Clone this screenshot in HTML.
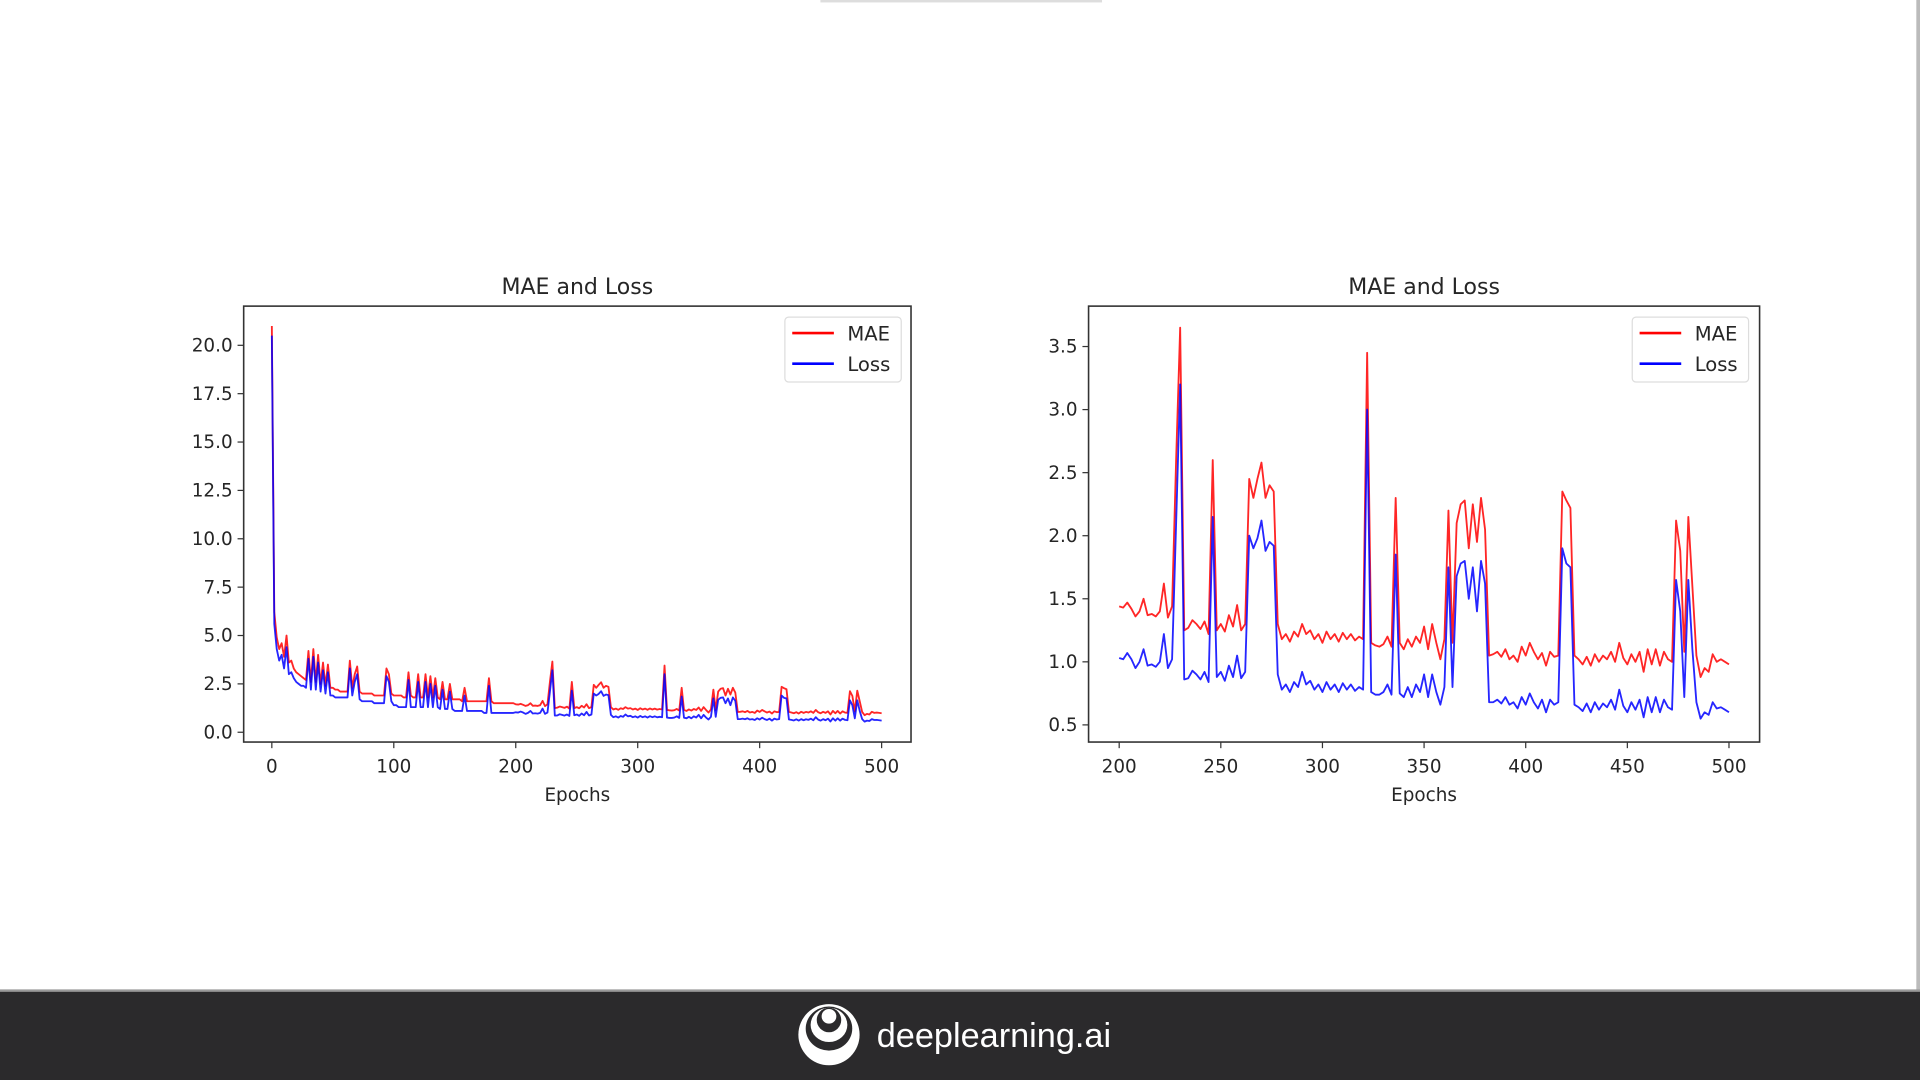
<!DOCTYPE html>
<html><head><meta charset="utf-8">
<style>
html,body{margin:0;padding:0;background:#fff;width:1920px;height:1080px;overflow:hidden}
svg{display:block}
text{font-family:"DejaVu Sans","Liberation Sans",sans-serif;fill:#262626}
</style></head>
<body>
<svg id="s" width="1920" height="1080" viewBox="0 0 1568 882">
<rect x="0" y="0" width="1568" height="882" fill="#fff"/>
<rect x="670" y="0" width="230" height="2" fill="#ddd"/>
<rect x="1565" y="0" width="3" height="809" fill="#bbb"/>
<g>
<rect x="0" y="809" width="1568" height="73" fill="#2b2a2c"/>
<rect x="0" y="808" width="1568" height="2" fill="#999"/>
<g>
<ellipse cx="677" cy="845" rx="25" ry="25" fill="#fff"/>
<ellipse cx="677" cy="840" rx="19" ry="18" fill="#2b2a2c"/>
<ellipse cx="677" cy="837" rx="15" ry="14" fill="#fff"/>
<ellipse cx="677" cy="833" rx="10" ry="10" fill="#2b2a2c"/>
<ellipse cx="677" cy="830" rx="6" ry="6" fill="#fff"/>
</g>
<text x="716" y="855" font-size="28" style="fill:#fff;font-family:'Liberation Sans',sans-serif">deeplearning.ai</text>
</g>
<g id="c1"></g>
<g id="c2"></g>
</svg>
<script>
// Right chart data (epochs 200..500, step 2)
const epochStart2 = 200;
const epochStep = 2;
const maeTail = [1.44,1.43,1.47,1.42,1.36,1.40,1.50,1.37,1.38,1.36,1.40,1.62,1.35,1.44,2.60,3.65,1.25,1.27,1.33,1.30,1.26,1.32,1.22,2.60,1.25,1.30,1.24,1.37,1.28,1.45,1.25,1.30,2.45,2.30,2.45,2.58,2.30,2.40,2.35,1.30,1.18,1.22,1.16,1.24,1.20,1.30,1.22,1.25,1.18,1.22,1.15,1.24,1.18,1.22,1.16,1.23,1.18,1.22,1.17,1.20,1.18,3.45,1.15,1.13,1.12,1.14,1.20,1.12,2.30,1.15,1.10,1.18,1.12,1.20,1.15,1.28,1.10,1.30,1.15,1.02,1.18,2.20,1.15,2.10,2.25,2.28,1.90,2.25,1.95,2.30,2.05,1.05,1.06,1.08,1.04,1.10,1.02,1.05,1.00,1.12,1.05,1.15,1.08,1.02,1.07,0.97,1.08,1.04,1.05,2.35,2.28,2.22,1.05,1.02,0.98,1.04,0.97,1.06,1.00,1.05,1.02,1.08,1.00,1.15,1.03,0.98,1.06,1.00,1.08,0.92,1.10,0.98,1.10,0.97,1.08,1.02,1.00,2.12,1.88,1.08,2.15,1.60,1.05,0.88,0.95,0.92,1.06,1.00,1.02,1.00,0.98];
const lossTail = [1.03,1.02,1.07,1.02,0.95,1.00,1.10,0.97,0.98,0.96,1.00,1.22,0.95,1.02,2.10,3.20,0.86,0.87,0.93,0.90,0.86,0.92,0.84,2.15,0.88,0.92,0.85,0.97,0.88,1.05,0.87,0.92,2.00,1.90,1.98,2.12,1.88,1.95,1.92,0.90,0.78,0.82,0.76,0.84,0.80,0.92,0.82,0.85,0.78,0.82,0.76,0.84,0.78,0.82,0.76,0.83,0.78,0.82,0.77,0.80,0.78,3.00,0.76,0.74,0.74,0.76,0.82,0.74,1.85,0.75,0.72,0.80,0.72,0.82,0.76,0.90,0.72,0.90,0.76,0.66,0.80,1.75,0.80,1.68,1.78,1.80,1.50,1.75,1.40,1.80,1.62,0.68,0.68,0.70,0.67,0.72,0.66,0.68,0.63,0.72,0.66,0.75,0.68,0.63,0.70,0.60,0.70,0.66,0.68,1.90,1.78,1.75,0.66,0.64,0.61,0.67,0.60,0.68,0.62,0.67,0.64,0.70,0.62,0.78,0.65,0.60,0.68,0.62,0.70,0.56,0.72,0.60,0.72,0.60,0.70,0.64,0.62,1.65,1.40,0.72,1.65,1.10,0.68,0.55,0.60,0.58,0.68,0.63,0.64,0.62,0.60];
// Left chart early data (epochs 0..198, step 2), followed by tail above
const maeHead = [21.0,6.2,4.9,4.3,4.6,3.9,5.0,3.6,3.7,3.3,3.1,3.0,2.9,2.8,2.7,4.2,2.6,4.3,2.6,4.0,2.5,3.6,2.4,3.5,2.3,2.3,2.2,2.2,2.1,2.1,2.1,2.1,3.7,2.3,3.0,3.4,2.1,2.0,2.0,2.0,2.0,2.0,1.9,1.9,1.9,1.9,1.9,3.3,3.0,2.0,1.9,1.9,1.9,1.9,1.8,1.8,3.1,1.9,1.8,1.8,3.0,1.8,1.8,3.0,1.8,2.9,1.8,2.8,1.8,1.7,2.6,1.7,1.7,2.5,1.7,1.7,1.7,1.7,1.6,2.3,1.6,1.6,1.6,1.6,1.6,1.6,1.6,1.6,1.6,2.8,1.6,1.5,1.5,1.5,1.5,1.5,1.5,1.5,1.5,1.5];
const lossHead = [20.5,5.6,4.3,3.7,4.0,3.3,4.4,3.0,3.1,2.8,2.6,2.5,2.4,2.4,2.3,3.8,2.2,3.9,2.2,3.6,2.1,3.2,2.0,3.1,1.9,1.9,1.8,1.8,1.8,1.8,1.8,1.8,3.3,1.9,2.6,3.0,1.7,1.6,1.6,1.6,1.6,1.6,1.5,1.5,1.5,1.5,1.5,2.9,2.6,1.6,1.4,1.4,1.3,1.3,1.3,1.3,2.7,1.3,1.3,1.3,2.6,1.3,1.3,2.6,1.3,2.5,1.3,2.4,1.3,1.2,2.2,1.2,1.2,2.1,1.2,1.1,1.1,1.1,1.1,1.9,1.1,1.1,1.1,1.1,1.1,1.1,1.1,1.0,1.0,2.4,1.0,1.0,1.0,1.0,1.0,1.0,1.0,1.0,1.0,1.0];
const xTicks1 = [0,100,200,300,400,500];
const yTicks1 = [0.0,2.5,5.0,7.5,10.0,12.5,15.0,17.5,20.0];
const xTicks2 = [200,250,300,350,400,450,500];
const yTicks2 = [0.5,1.0,1.5,2.0,2.5,3.0,3.5];
const seriesNames = ["MAE","Loss"];
const seriesColors = ["#ff0000","#0000ff"];

const NS="http://www.w3.org/2000/svg";
function mk(tag,attrs,parent){const e=document.createElementNS(NS,tag);for(const k in attrs)e.setAttribute(k,attrs[k]);parent.appendChild(e);return e;}

function drawChart(g,box,xDom,yDom,xTicks,yTicks,series,legendX,fmt){
  const sx=v=>box.x0+(v-xDom[0])/(xDom[1]-xDom[0])*(box.x1-box.x0);
  const sy=v=>box.y0-(v-yDom[0])/(yDom[1]-yDom[0])*(box.y0-box.y1);
  const t=mk('text',{x:(box.L+box.R)/2,y:240,'font-size':18,'text-anchor':'middle'},g);
  t.textContent='MAE and Loss';
  
  
  series.forEach((s,k)=>{
    const pts=s.xs.map((x,i)=>sx(x).toFixed(1)+','+sy(s.ys[i]).toFixed(1)).join(' ');
    const p=mk('polyline',{points:pts,fill:'none',stroke:seriesColors[k],'stroke-width':1.5,'stroke-opacity':0.85,'stroke-linejoin':'round'},g);
    
    
  });
  const fr=mk('rect',{x:box.L,y:box.T,width:box.R-box.L,height:box.B-box.T,fill:'none',stroke:'#333','stroke-width':1.3},g);
  
  
  xTicks.forEach(v=>{
    mk('line',{x1:sx(v),x2:sx(v),y1:box.B,y2:box.B+5,stroke:'#333','stroke-width':1},g);
    const tx=mk('text',{x:sx(v),y:box.B+25,'font-size':15,'text-anchor':'middle'},g);
    tx.textContent=v;
    
    
  });
  yTicks.forEach(v=>{
    mk('line',{x1:box.L-5,x2:box.L,y1:sy(v),y2:sy(v),stroke:'#333','stroke-width':1},g);
    const ty=mk('text',{x:box.L-9,y:sy(v)+5,'font-size':15,'text-anchor':'end'},g);
    ty.textContent=v.toFixed(1);
    
    
  });
  const xl=mk('text',{x:(box.L+box.R)/2,y:654,'font-size':15,'text-anchor':'middle'},g);
  xl.textContent='Epochs';
  
  
  const lg=mk('g',{},g);
  
  
  mk('rect',{x:legendX,y:259,width:95,height:53,rx:3,fill:'#fff',stroke:'#ddd','stroke-width':1},lg);
  seriesNames.forEach((n,k)=>{
    const y=272+k*25;
    mk('line',{x1:legendX+6,x2:legendX+40,y1:y,y2:y,stroke:seriesColors[k],'stroke-width':2.2},lg);
    const lt=mk('text',{x:legendX+51,y:y+6,'font-size':16},lg);
    lt.textContent=n;
    
    
  });
}
const xsHead=maeHead.map((_,i)=>i*epochStep);
const xsTail=maeTail.map((_,i)=>epochStart2+i*epochStep);
const xsTailL=lossTail.map((_,i)=>epochStart2+i*epochStep);
const xsHeadL=lossHead.map((_,i)=>i*epochStep);
drawChart(document.getElementById('c1'),
  {L:199,R:744,T:250,B:606,x0:222,x1:720,y0:598,y1:282},[0,500],[0,20],xTicks1,yTicks1,
  [{xs:xsHead.concat(xsTail),ys:maeHead.concat(maeTail)},{xs:xsHeadL.concat(xsTailL),ys:lossHead.concat(lossTail)}],641);
drawChart(document.getElementById('c2'),
  {L:889,R:1437,T:250,B:606,x0:914,x1:1412,y0:592,y1:283},[200,500],[0.5,3.5],xTicks2,yTicks2,
  [{xs:xsTail,ys:maeTail},{xs:xsTailL,ys:lossTail}],1333);
document.getElementById('c1');
document.getElementById('c1');
document.getElementById('c2');
document.getElementById('c2');
</script>
</body></html>
